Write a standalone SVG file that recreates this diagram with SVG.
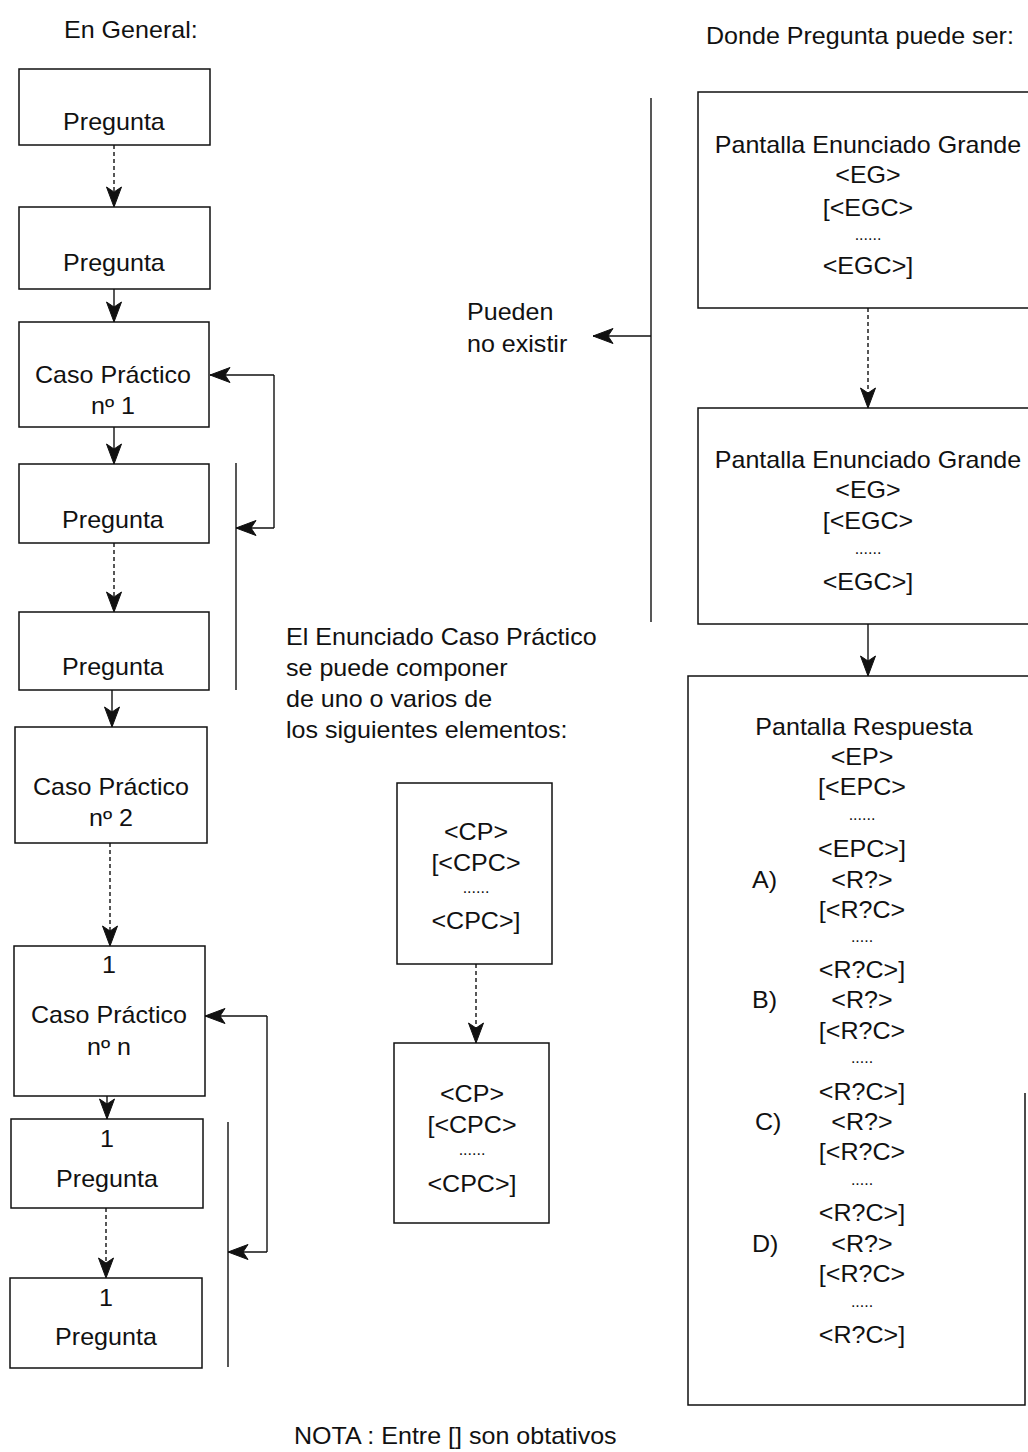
<svg xmlns="http://www.w3.org/2000/svg" width="1028" height="1452" viewBox="0 0 1028 1452">
  <style>
    text { font-family: "Liberation Sans", Arial, sans-serif; font-size: 23px; fill: #111;
           transform-box: fill-box; transform-origin: left center; transform: scaleX(1.09); }
    .c { text-anchor: middle; transform-origin: center; }
    .dots { font-size: 16px; transform: none; }
    .box { fill: #fff; stroke: #111; stroke-width: 1.5; }
    .ln { fill: none; stroke: #111; stroke-width: 1.4; }
    .dash { stroke-dasharray: 4 3; }
  </style>
  <defs>
    <marker id="arr" markerUnits="userSpaceOnUse" markerWidth="24" markerHeight="18" refX="21" refY="9" orient="auto">
      <path d="M1,1.5 L21,9 L1,16.5 L6,9 Z" fill="#111" stroke="#111" stroke-width="1" stroke-linejoin="round"/>
    </marker>
  </defs>

  <rect width="1028" height="1452" fill="#fff"/>

  <!-- headings and notes -->
  <text x="64" y="38">En General:</text>
  <text x="706" y="44">Donde Pregunta puede ser:</text>
  <text x="467" y="320">Pueden</text>
  <text x="467" y="352">no existir</text>
  <text x="286" y="645">El Enunciado Caso Práctico</text>
  <text x="286" y="676">se puede componer</text>
  <text x="286" y="707">de uno o varios de</text>
  <text x="286" y="738">los siguientes elementos:</text>
  <text x="294" y="1444">NOTA : Entre [] son obtativos</text>

  <!-- connectors -->
  <g id="connectors">
    <line class="ln dash" x1="114" y1="145" x2="114" y2="207" marker-end="url(#arr)"/>
    <line class="ln" x1="114" y1="289" x2="114" y2="322" marker-end="url(#arr)"/>
    <line class="ln" x1="114" y1="427" x2="114" y2="464" marker-end="url(#arr)"/>
    <line class="ln dash" x1="114" y1="543" x2="114" y2="612" marker-end="url(#arr)"/>
    <line class="ln" x1="112" y1="690" x2="112" y2="727" marker-end="url(#arr)"/>
    <line class="ln dash" x1="110" y1="843" x2="110" y2="946" marker-end="url(#arr)"/>
    <line class="ln" x1="107" y1="1096" x2="107" y2="1119" marker-end="url(#arr)"/>
    <line class="ln dash" x1="106" y1="1208" x2="106" y2="1278" marker-end="url(#arr)"/>

    <!-- first loop: bracket over Pregunta pair back to Caso Práctico nº 1 -->
    <line class="ln" x1="236" y1="463" x2="236" y2="690"/>
    <line class="ln" x1="274" y1="375" x2="210" y2="375" marker-end="url(#arr)"/>
    <line class="ln" x1="274" y1="375" x2="274" y2="528"/>
    <line class="ln" x1="274" y1="528" x2="236" y2="528" marker-end="url(#arr)"/>

    <!-- second loop -->
    <line class="ln" x1="228" y1="1122" x2="228" y2="1367"/>
    <line class="ln" x1="267" y1="1016" x2="205" y2="1016" marker-end="url(#arr)"/>
    <line class="ln" x1="267" y1="1016" x2="267" y2="1252"/>
    <line class="ln" x1="267" y1="1252" x2="228" y2="1252" marker-end="url(#arr)"/>

    <!-- optional screens bracket -->
    <line class="ln" x1="651" y1="98" x2="651" y2="622"/>
    <line class="ln" x1="651" y1="336" x2="593" y2="336" marker-end="url(#arr)"/>

    <line class="ln dash" x1="868" y1="308" x2="868" y2="408" marker-end="url(#arr)"/>
    <line class="ln" x1="868" y1="624" x2="868" y2="676" marker-end="url(#arr)"/>

    <line class="ln dash" x1="476" y1="964" x2="476" y2="1043" marker-end="url(#arr)"/>
  </g>

  <!-- left column -->
  <g id="preg1"><rect class="box" x="19" y="69" width="191" height="76"/><text class="c" x="114" y="130">Pregunta</text></g>
  <g id="preg2"><rect class="box" x="19" y="207" width="191" height="82"/><text class="c" x="114" y="271">Pregunta</text></g>
  <g id="caso1"><rect class="box" x="19" y="322" width="190" height="105"/><text class="c" x="113" y="383">Caso Práctico</text><text class="c" x="113" y="414">nº 1</text></g>
  <g id="preg3"><rect class="box" x="19" y="464" width="190" height="79"/><text class="c" x="113" y="528">Pregunta</text></g>
  <g id="preg4"><rect class="box" x="19" y="612" width="190" height="78"/><text class="c" x="113" y="675">Pregunta</text></g>
  <g id="caso2"><rect class="box" x="15" y="727" width="192" height="116"/><text class="c" x="111" y="795">Caso Práctico</text><text class="c" x="111" y="826">nº 2</text></g>
  <g id="cason"><rect class="box" x="14" y="946" width="191" height="150"/><text class="c" x="109" y="973">1</text><text class="c" x="109" y="1023">Caso Práctico</text><text class="c" x="109" y="1055">nº n</text></g>
  <g id="preg5"><rect class="box" x="11" y="1119" width="192" height="89"/><text class="c" x="107" y="1147">1</text><text class="c" x="107" y="1187">Pregunta</text></g>
  <g id="preg6"><rect class="box" x="10" y="1278" width="192" height="90"/><text class="c" x="106" y="1306">1</text><text class="c" x="106" y="1345">Pregunta</text></g>

  <!-- case statement elements -->
  <g id="cp1"><rect class="box" x="397" y="783" width="155" height="181"/>
    <text class="c" x="476" y="840">&lt;CP&gt;</text><text class="c" x="476" y="871">[&lt;CPC&gt;</text>
    <text class="c dots" x="476" y="893">......</text><text class="c" x="476" y="929">&lt;CPC&gt;]</text></g>
  <g id="cp2"><rect class="box" x="394" y="1043" width="155" height="180"/>
    <text class="c" x="472" y="1102">&lt;CP&gt;</text><text class="c" x="472" y="1133">[&lt;CPC&gt;</text>
    <text class="c dots" x="472" y="1155">......</text><text class="c" x="472" y="1192">&lt;CPC&gt;]</text></g>

  <!-- right column -->
  <g id="eg1"><rect class="box" x="698" y="92" width="345" height="216"/>
    <text class="c" x="868" y="153">Pantalla Enunciado Grande</text>
    <text class="c" x="868" y="183">&lt;EG&gt;</text><text class="c" x="868" y="216">[&lt;EGC&gt;</text>
    <text class="c dots" x="868" y="240">......</text><text class="c" x="868" y="274">&lt;EGC&gt;]</text></g>
  <g id="eg2"><rect class="box" x="698" y="408" width="345" height="216"/>
    <text class="c" x="868" y="468">Pantalla Enunciado Grande</text>
    <text class="c" x="868" y="498">&lt;EG&gt;</text><text class="c" x="868" y="529">[&lt;EGC&gt;</text>
    <text class="c dots" x="868" y="554">......</text><text class="c" x="868" y="590">&lt;EGC&gt;]</text></g>
  <g id="resp">
    <path class="box" d="M1028,676 L688,676 L688,1405 L1025,1405 L1025,1093"/>
    <text class="c" x="864" y="735">Pantalla Respuesta</text>
    <text class="c" x="862" y="765">&lt;EP&gt;</text>
    <text class="c" x="862" y="795">[&lt;EPC&gt;</text>
    <text class="c dots" x="862" y="820">......</text>
    <text class="c" x="862" y="857">&lt;EPC&gt;]</text>
    <text x="752" y="888">A)</text><text class="c" x="862" y="888">&lt;R?&gt;</text>
    <text class="c" x="862" y="918">[&lt;R?C&gt;</text>
    <text class="c dots" x="862" y="942">.....</text>
    <text class="c" x="862" y="978">&lt;R?C&gt;]</text>
    <text x="752" y="1008">B)</text><text class="c" x="862" y="1008">&lt;R?&gt;</text>
    <text class="c" x="862" y="1039">[&lt;R?C&gt;</text>
    <text class="c dots" x="862" y="1063">.....</text>
    <text class="c" x="862" y="1100">&lt;R?C&gt;]</text>
    <text x="755" y="1130">C)</text><text class="c" x="862" y="1130">&lt;R?&gt;</text>
    <text class="c" x="862" y="1160">[&lt;R?C&gt;</text>
    <text class="c dots" x="862" y="1185">.....</text>
    <text class="c" x="862" y="1221">&lt;R?C&gt;]</text>
    <text x="752" y="1252">D)</text><text class="c" x="862" y="1252">&lt;R?&gt;</text>
    <text class="c" x="862" y="1282">[&lt;R?C&gt;</text>
    <text class="c dots" x="862" y="1307">.....</text>
    <text class="c" x="862" y="1343">&lt;R?C&gt;]</text>
  </g>
</svg>
